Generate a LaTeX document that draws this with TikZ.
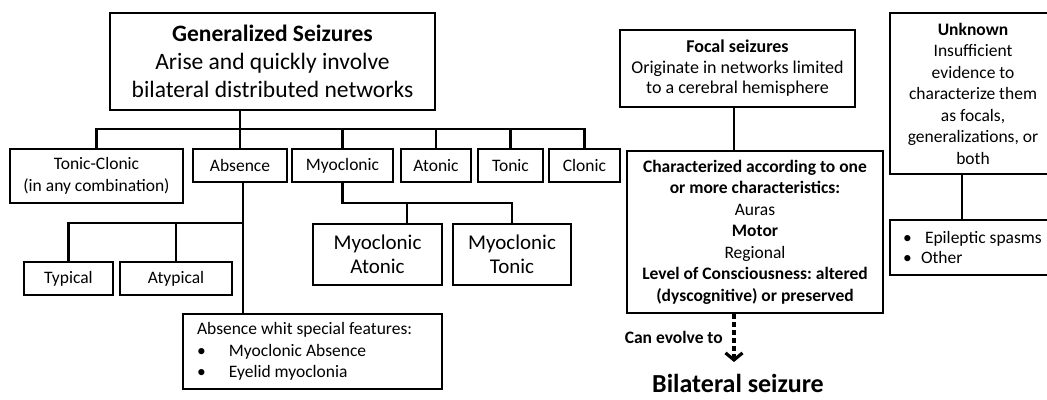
\documentclass[tikz,border=0pt]{standalone}
\usepackage{fontspec}
\setmainfont{Carlito}
\usetikzlibrary{arrows.meta}
\frenchspacing
\newcommand\fgen{\fontsize{23.5pt}{28pt}\selectfont}
\newcommand\fsm{\fontsize{17.5pt}{21.5pt}\selectfont}
\newcommand\fmid{\fontsize{21pt}{23.5pt}\selectfont}
\newcommand\ffoc{\fontsize{18pt}{20.5pt}\selectfont}
\newcommand\fbig{\fontsize{26pt}{30pt}\selectfont}
\begin{document}
\begin{tikzpicture}[x=1pt,y=-1pt,
  box/.style={draw, line width=1.8pt, align=center, inner sep=0pt, font=\fsm},
  conn/.style={line width=2.2pt},
]
\useasboundingbox (0,0) rectangle (1047,399);
% Generalized
\node[box, minimum width=325, minimum height=97, font=\fgen] (gen) at (272.5,61.5)
  {\textbf{Generalized Seizures}\\Arise and quickly involve\\bilateral distributed networks};
\node[box, minimum width=173, minimum height=54] (tc) at (96.5,176) {Tonic-Clonic\\(in any combination)};
\node[box, minimum width=94, minimum height=33] (abs) at (240,165.5) {Absence};
\node[box, minimum width=101, minimum height=33] (myo) at (342.5,165.5) {Myoclonic};
\node[box, minimum width=70, minimum height=33] (aton) at (436,165.5) {Atonic};
\node[box, minimum width=65, minimum height=33] (ton) at (510.5,165.5) {Tonic};
\node[box, minimum width=71, minimum height=33] (clon) at (584.5,165.5) {Clonic};
\node[box, minimum width=89, minimum height=33] (typ) at (68.5,278.5) {Typical};
\node[box, minimum width=112, minimum height=33] (atyp) at (176,278.5) {Atypical};
\node[box, minimum width=259, minimum height=75, text width=231pt, inner xsep=14pt, align=flush left] (absp) at (312.5,351.5)
  {Absence whit special features:\\\makebox[32pt][l]{•}Myoclonic Absence\\\makebox[32pt][l]{•}Eyelid myoclonia};
\node[box, minimum width=129, minimum height=61, font=\fmid] (ma) at (377.5,254.5) {Myoclonic\\Atonic};
\node[box, minimum width=118, minimum height=61, font=\fmid] (mt) at (512,254.5) {Myoclonic\\Tonic};
% Focal
\node[box, minimum width=235, minimum height=77, font=\ffoc] (focal) at (737.5,68.5)
  {\textbf{Focal seizures}\\Originate in networks limited\\to a cerebral hemisphere};
\node[box, minimum width=256, minimum height=162] (char) at (755,232)
  {\textbf{Characterized according to one}\\\textbf{or more characteristics:}\\Auras\\\textbf{Motor}\\Regional\\\textbf{Level of Consciousness: altered}\\\textbf{(dyscognitive) or preserved}};
\node[font=\fsm, anchor=east, inner sep=0pt] (can) at (723,337) {\textbf{Can evolve to}};
\node[font=\fbig, anchor=base, inner sep=0pt] (bil) at (738,392) {\textbf{Bilateral seizure}};
% Unknown
\node[box, minimum width=166, minimum height=161] (unk) at (973,93.5)
  {\textbf{Unknown}\\Insufficient\\evidence to\\characterize them\\as focals,\\generalizations, or\\both};
\node[box, minimum width=166, minimum height=55, text width=153pt, inner xsep=6.5pt, align=flush left, font=\fontsize{17.5pt}{20pt}\selectfont] (epi) at (973,247.5)
  {\hspace*{6.5pt}\makebox[22pt][l]{•}Epileptic spasms\\\hspace*{6.5pt}\makebox[18pt][l]{•}Other};
% connectors: generalized
\draw[conn] (gen.south -| abs.north) -- (abs.north);
\draw[conn] (tc.north) -- (tc.north |- 0,129) -- (clon.north |- 0,129) -- (clon.north);
\foreach \n in {myo,aton,ton} \draw[conn] (\n.north) -- (\n.north |- 0,129);
% absence
\draw[conn] ([xshift=3pt]abs.south) -- ([xshift=3pt]abs.south |- absp.north);
\draw[conn] (typ.north) -- (typ.north |- 0,223) -- ([xshift=3pt]abs.south |- 0,223);
\draw[conn] (atyp.north) -- (atyp.north |- 0,223);
% myoclonic
\draw[conn] (myo.south) -- (myo.south |- 0,203) -- (mt.north |- 0,203) -- (mt.north);
\draw[conn] ([xshift=29.5pt]ma.north) -- ([xshift=29.5pt]ma.north |- 0,203);
% focal
\draw[conn] ([xshift=-3.5pt]focal.south) -- ([xshift=-3.5pt]focal.south |- char.north);
\coordinate (tip) at (734,362);
\draw[line width=3.2pt, dash pattern=on 5pt off 3pt, -{Straight Barb[length=7pt,width=17pt]}] ([xshift=-21pt]char.south) -- (tip);
% unknown
\draw[conn] ([xshift=-11pt]unk.south) -- ([xshift=-11pt]unk.south |- epi.north);
\end{tikzpicture}
\end{document}
